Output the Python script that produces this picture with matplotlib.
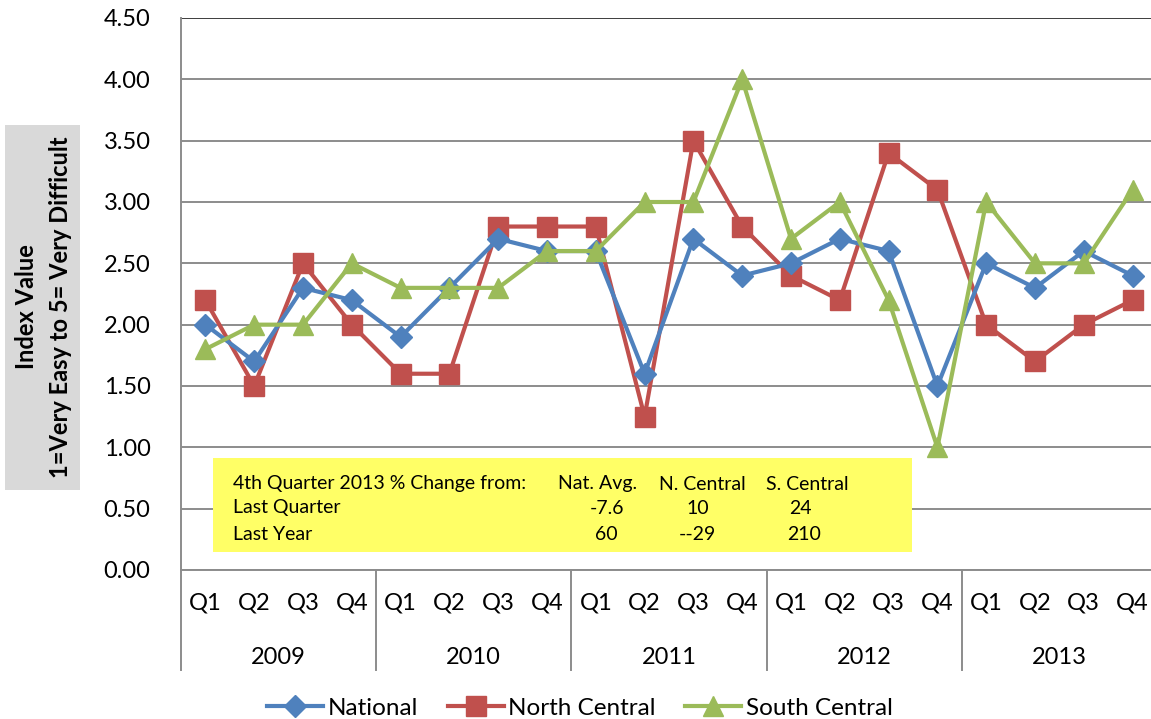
import matplotlib
matplotlib.use("Agg")
import matplotlib.pyplot as plt
from matplotlib.patches import Rectangle
import matplotlib.transforms as mtransforms

plt.rcParams['font.family'] = ['Lato', 'DejaVu Sans']

quarters = ["Q1", "Q2", "Q3", "Q4"]
years = ["2009", "2010", "2011", "2012", "2013"]

national = [2.0, 1.7, 2.3, 2.2, 1.9, 2.3, 2.7, 2.6, 2.6, 1.6, 2.7, 2.4,
            2.5, 2.7, 2.6, 1.5, 2.5, 2.3, 2.6, 2.4]
north_central = [2.2, 1.5, 2.5, 2.0, 1.6, 1.6, 2.8, 2.8, 2.8, 1.25, 3.5, 2.8,
                 2.4, 2.2, 3.4, 3.1, 2.0, 1.7, 2.0, 2.2]
south_central = [1.8, 2.0, 2.0, 2.5, 2.3, 2.3, 2.3, 2.6, 2.6, 3.0, 3.0, 4.0,
                 2.7, 3.0, 2.2, 1.0, 3.0, 2.5, 2.5, 3.1]

series_names = ["National", "North Central", "South Central"]
table_header = ["4th Quarter 2013 % Change from:", "Nat. Avg.", "N. Central", "S. Central"]
table_rows = [["Last Quarter", "-7.6", "10", "24"],
              ["Last Year", "60", "--29", "210"]]

W, H = 1151, 719
fig = plt.figure(figsize=(W / 100, H / 100), dpi=100)

def fx(px):
    return px / W

def fy(py):
    return 1 - py / H

ax_l, ax_r, ax_t, ax_b = 181, 1157, 18, 570
ax = fig.add_axes([fx(ax_l), fy(ax_b), fx(ax_r - ax_l), (ax_b - ax_t) / H])

blue, red, green = "#4F81BD", "#C0504D", "#9BBB59"
labels = [q for y in years for q in quarters]
x = list(range(len(labels)))

ax.plot(x, national, color=blue, lw=3, marker="D", ms=11, label=series_names[0], zorder=5)
ax.plot(x, north_central, color=red, lw=3, marker="s", ms=14, label=series_names[1], zorder=4)
ax.plot(x, south_central, color=green, lw=3, marker="^", ms=15, label=series_names[2], zorder=6)

ax.set_xlim(-0.5, len(labels) - 0.5)
ax.set_ylim(0, 4.5)
yt = [i * 0.5 for i in range(10)]
ax.set_yticks(yt)
ax.set_yticklabels([f"{v:.2f}" for v in yt], fontsize=17)
ax.tick_params(axis="y", length=0, pad=22)
ax.set_xticks(x)
ax.set_xticklabels(labels, fontsize=17)
ax.tick_params(axis="x", length=0, pad=16)
ax.grid(axis="y", color="#8C8C8C", lw=1.4)
ax.set_axisbelow(True)
for s in ["top", "right"]:
    ax.spines[s].set_visible(False)
ax.spines["left"].set_color("#8C8C8C")
ax.spines["left"].set_linewidth(1.4)
ax.spines["bottom"].set_color("#8C8C8C")
ax.spines["bottom"].set_linewidth(1.4)
ax.axhline(4.5, color="#333333", lw=1.2, zorder=1)

trans = mtransforms.blended_transform_factory(ax.transData, ax.transAxes)
sep_bottom = -(670 - ax_b) / (ax_b - ax_t)
for i in range(len(years) + 1):
    xs = i * 4 - 0.5
    ax.plot([xs, xs], [0, sep_bottom], transform=trans, color="#8C8C8C", lw=1.4, clip_on=False)
for i, yr in enumerate(years):
    ax.text(i * 4 + 1.5, -(657 - ax_b) / (ax_b - ax_t), yr, transform=trans,
            ha="center", va="center", fontsize=17)

# yellow info box
fig.patches.append(Rectangle((fx(213), fy(552)), fx(912 - 213), (552 - 458) / H,
                             transform=fig.transFigure, facecolor="#FFFF66",
                             edgecolor="none", zorder=3))
row_y = [484, 508, 534]
fs_box = 14
fig.text(fx(233), fy(row_y[0]), table_header[0], ha="left", va="center", fontsize=fs_box, zorder=4)
col_x = [598, 702, 807]
for j, hdr in enumerate(table_header[1:]):
    fig.text(fx(col_x[j]), fy(row_y[0]), hdr, ha="center", va="center", fontsize=fs_box, zorder=4)
val_x = [[607, 698, 800], [606, 697, 804]]
for r, row in enumerate(table_rows):
    fig.text(fx(233), fy(row_y[r + 1]), row[0], ha="left", va="center", fontsize=fs_box, zorder=4)
    for j, v in enumerate(row[1:]):
        fig.text(fx(val_x[r][j]), fy(row_y[r + 1]), v, ha="center", va="center",
                 fontsize=fs_box, zorder=4)

# y label box
fig.patches.append(Rectangle((fx(5), fy(490)), fx(75), (490 - 125) / H,
                             transform=fig.transFigure, facecolor="#D9D9D9",
                             edgecolor="none"))
fig.text(fx(27), fy(307), "Index Value", rotation=90, ha="center", va="center",
         fontsize=17, fontweight="bold")
fig.text(fx(61), fy(307), "1=Very Easy to 5= Very Difficult", rotation=90, ha="center",
         va="center", fontsize=17, fontweight="bold")

leg = fig.legend(loc="center", bbox_to_anchor=(fx(580), fy(708)), ncol=3, frameon=False,
                 fontsize=17.5, handlelength=2.3, handletextpad=0.2, columnspacing=1.2)

fig.savefig("out.png", dpi=100)
